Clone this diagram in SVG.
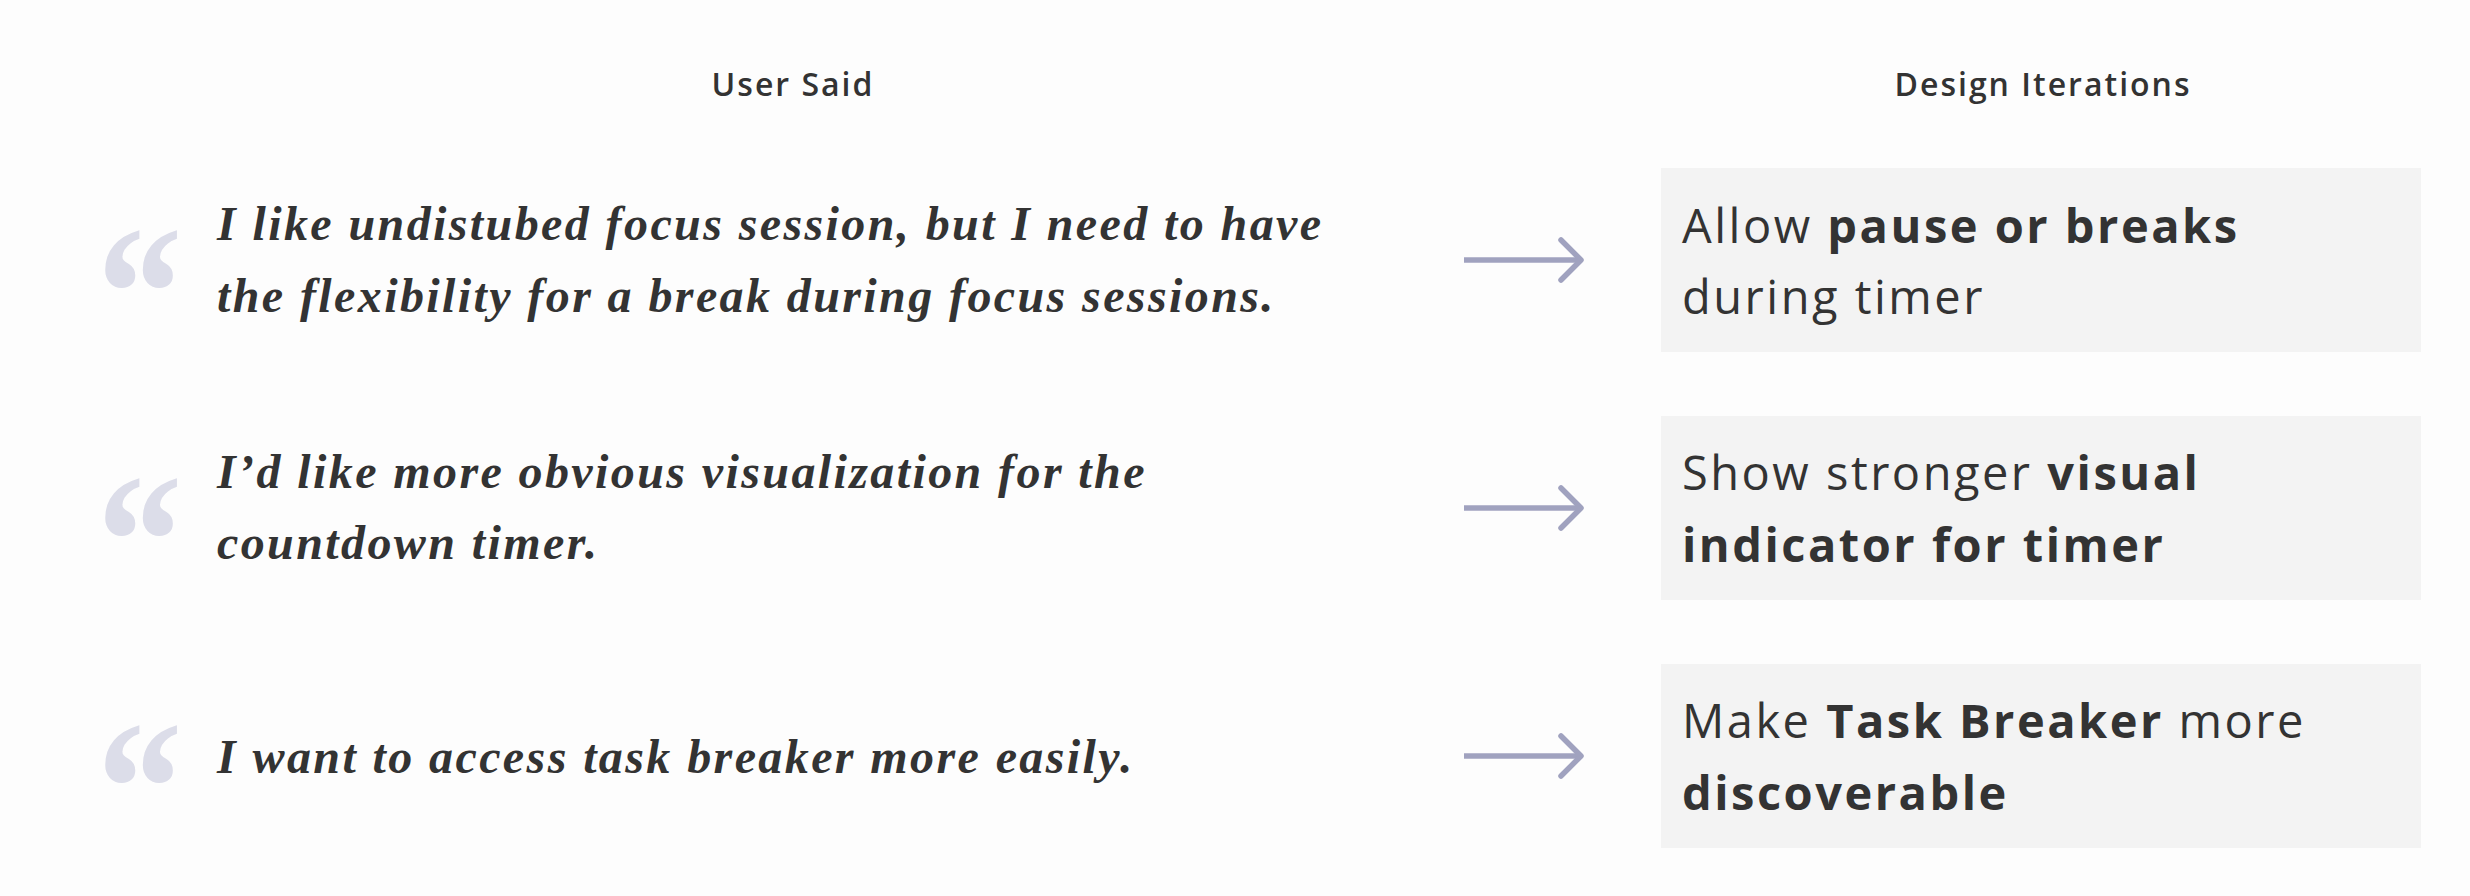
<svg xmlns="http://www.w3.org/2000/svg" width="2470" height="896" viewBox="0 0 2470 896">
  <style>
    .hdr { font-family: "Open Sans", "Liberation Sans", sans-serif; font-weight: 600; font-size: 32px; letter-spacing: 2px; fill: #333333; text-anchor: middle; }
    .qm { font-family: "Liberation Serif", serif; font-weight: bold; font-size: 190px; fill: #dcdde9; }
    .quote { font-family: "Liberation Serif", serif; font-style: italic; font-weight: bold; font-size: 48px; letter-spacing: 2.4px; fill: #333333; }
    .box { fill: #f3f3f3; }
    .bt { font-family: "Open Sans", "Liberation Sans", sans-serif; font-weight: 400; font-size: 47px; letter-spacing: 2.5px; fill: #333333; }
    .b { font-weight: 700; }
    .conn { stroke: #a0a2bf; stroke-width: 5.5; fill: none; }
  </style>
  <defs>
    <marker id="chev" viewBox="0 0 28 48" markerWidth="28" markerHeight="48" refX="24" refY="24" markerUnits="userSpaceOnUse" orient="auto">
      <path d="M3 4 L23 24 L3 44" fill="none" stroke="#a0a2bf" stroke-width="5.5" stroke-linecap="round" stroke-linejoin="round"/>
    </marker>
  </defs>
  <rect x="0" y="0" width="2470" height="896" fill="#fdfdfd"/>

  <g id="header-user-said"><text class="hdr" x="793" y="96">User Said</text></g>
  <g id="header-design-iterations"><text class="hdr" x="2043" y="96">Design Iterations</text></g>

  <g id="quote-1">
    <text class="qm" transform="translate(97,357) scale(0.9,1)">“</text>
    <text class="quote" x="217" y="240">I like undistubed focus session, but I need to have</text>
    <text class="quote" x="217" y="312">the flexibility for a break during focus sessions.</text>
  </g>
  <g id="quote-2">
    <text class="qm" transform="translate(97,605) scale(0.9,1)">“</text>
    <text class="quote" x="217" y="488">I’d like more obvious visualization for the</text>
    <text class="quote" x="217" y="559">countdown timer.</text>
  </g>
  <g id="quote-3">
    <text class="qm" transform="translate(97,852) scale(0.9,1)">“</text>
    <text class="quote" x="217" y="773">I want to access task breaker more easily.</text>
  </g>

  <g id="iteration-1">
    <rect class="box" x="1661" y="168" width="760" height="184"/>
    <text class="bt" x="1682" y="243">Allow <tspan class="b">pause or breaks</tspan></text>
    <text class="bt" x="1682" y="314">during timer</text>
  </g>
  <g id="iteration-2">
    <rect class="box" x="1661" y="416" width="760" height="184"/>
    <text class="bt" x="1682" y="490">Show stronger <tspan class="b">visual</tspan></text>
    <text class="bt b" x="1682" y="562">indicator for timer</text>
  </g>
  <g id="iteration-3">
    <rect class="box" x="1661" y="664" width="760" height="184"/>
    <text class="bt" x="1682" y="738">Make <tspan class="b">Task Breaker</tspan> more</text>
    <text class="bt b" x="1682" y="810">discoverable</text>
  </g>

  <g id="connectors">
    <path class="conn" d="M1464 260 H1582" marker-end="url(#chev)"/>
    <path class="conn" d="M1464 508 H1582" marker-end="url(#chev)"/>
    <path class="conn" d="M1464 756 H1582" marker-end="url(#chev)"/>
  </g>
</svg>
